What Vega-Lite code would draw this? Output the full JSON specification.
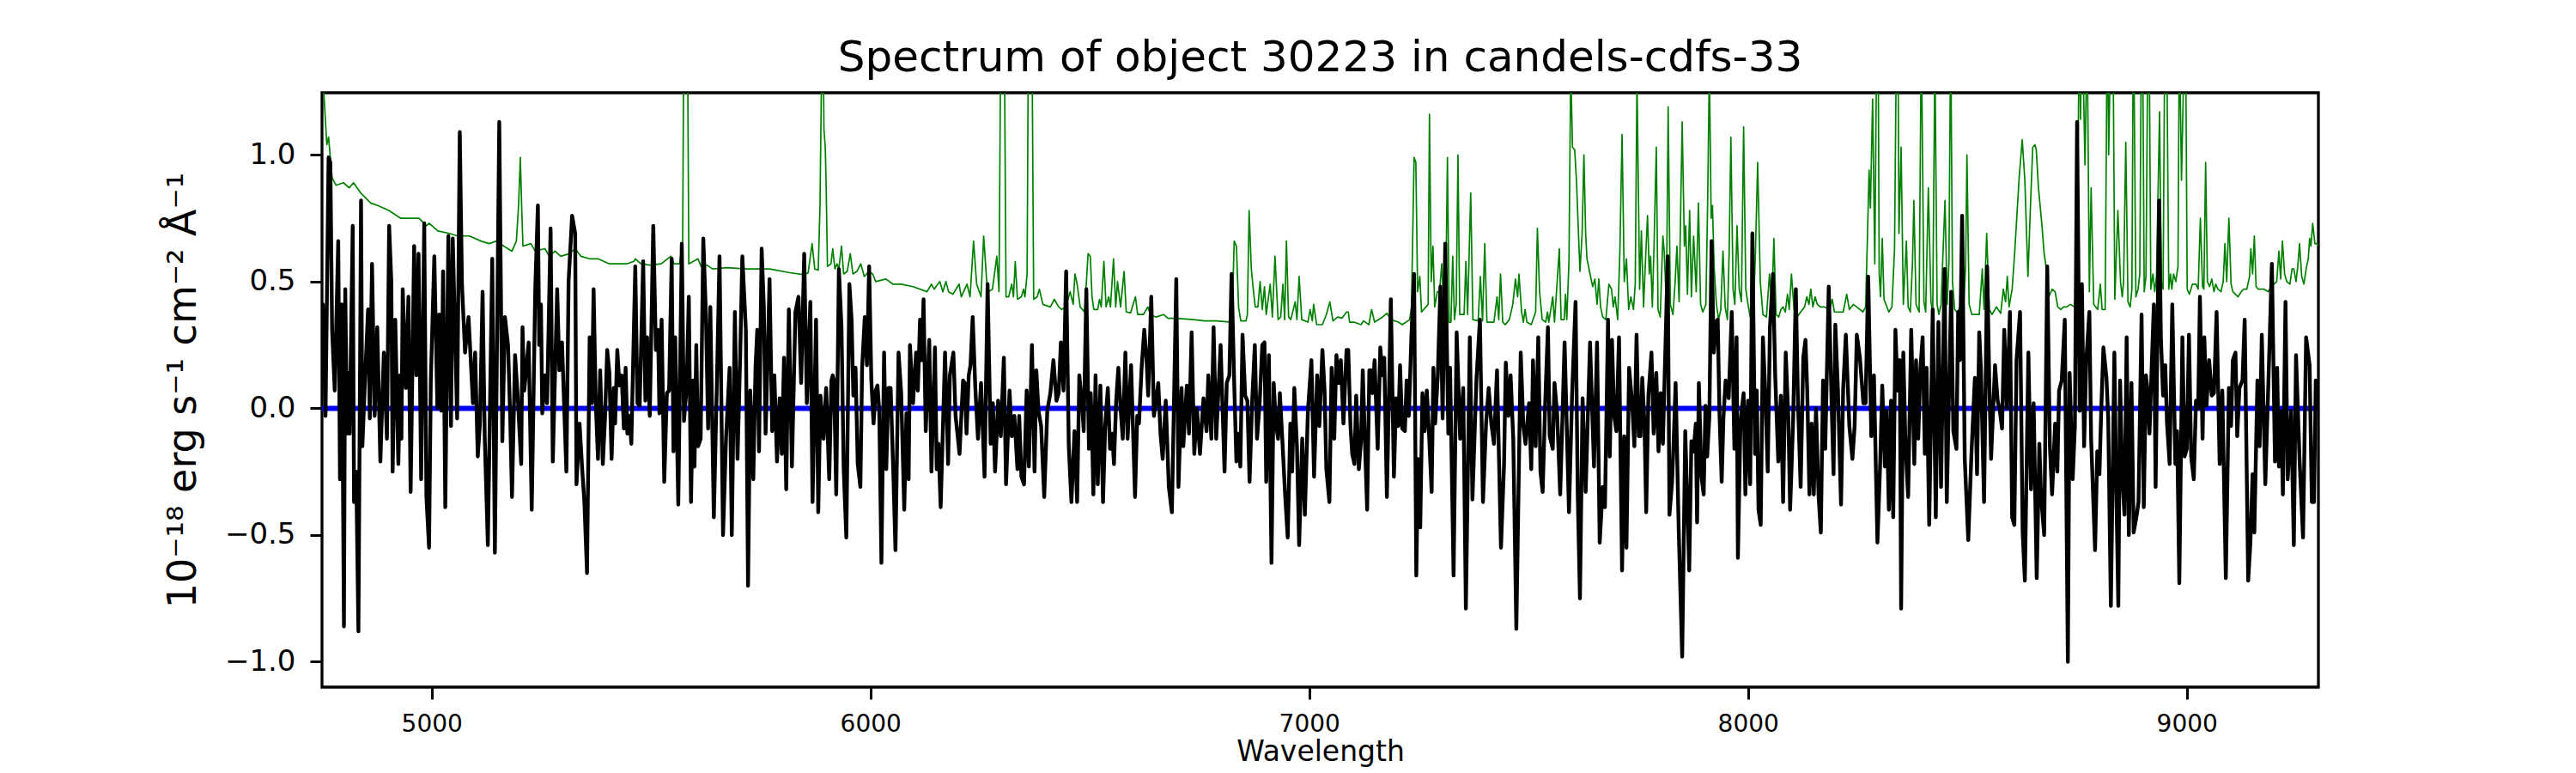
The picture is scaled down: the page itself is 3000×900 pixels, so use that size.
{
  "$schema": "https://vega.github.io/schema/vega-lite/v6.json",
  "width": 2325,
  "height": 692,
  "autosize": "none",
  "padding": {"left": 375, "top": 108, "right": 300, "bottom": 100},
  "background": "white",
  "title": {
    "text": "Spectrum of object 30223 in candels-cdfs-33",
    "font": "DejaVu Sans",
    "fontSize": 50,
    "fontWeight": "normal",
    "color": "black",
    "anchor": "middle",
    "offset": 15
  },
  "datasets": {
    "flux": [
      {"w":4750,"f":0.35},{"w":4752,"f":0.41},{"w":4758,"f":-0.03},{"w":4765,"f":0.99},{"w":4769,"f":0.97},{"w":4773,"f":0.31},{"w":4779,"f":0.07},{"w":4787,"f":0.66},{"w":4791,"f":-0.28},{"w":4795,"f":0.41},{"w":4800,"f":-0.86},{"w":4803,"f":0.47},{"w":4807,"f":-0.10},{"w":4810,"f":0.14},{"w":4813,"f":-0.10},{"w":4820,"f":0.72},{"w":4823,"f":-0.37},{"w":4828,"f":-0.25},{"w":4833,"f":-0.88},{"w":4839,"f":0.82},{"w":4842,"f":-0.15},{"w":4848,"f":0.11},{"w":4855,"f":0.39},{"w":4859,"f":-0.04},{"w":4864,"f":0.57},{"w":4870,"f":-0.03},{"w":4876,"f":0.32},{"w":4883,"f":-0.21},{"w":4891,"f":0.22},{"w":4898,"f":-0.12},{"w":4903,"f":0.72},{"w":4908,"f":0.50},{"w":4911,"f":-0.25},{"w":4917,"f":0.35},{"w":4924,"f":-0.22},{"w":4928,"f":0.13},{"w":4931,"f":-0.12},{"w":4934,"f":0.47},{"w":4941,"f":0.08},{"w":4947,"f":0.44},{"w":4952,"f":-0.33},{"w":4960,"f":0.64},{"w":4965,"f":0.13},{"w":4970,"f":0.61},{"w":4976,"f":-0.28},{"w":4983,"f":0.73},{"w":4988,"f":-0.35},{"w":4994,"f":-0.55},{"w":4998,"f":0.11},{"w":5006,"f":0.60},{"w":5013,"f":0.00},{"w":5017,"f":0.37},{"w":5022,"f":-0.01},{"w":5026,"f":0.54},{"w":5031,"f":-0.39},{"w":5038,"f":0.68},{"w":5044,"f":-0.07},{"w":5048,"f":0.67},{"w":5058,"f":-0.04},{"w":5064,"f":1.09},{"w":5069,"f":0.49},{"w":5076,"f":0.22},{"w":5084,"f":0.36},{"w":5094,"f":0.02},{"w":5099,"f":0.22},{"w":5105,"f":-0.19},{"w":5110,"f":-0.06},{"w":5116,"f":0.46},{"w":5121,"f":-0.12},{"w":5128,"f":-0.54},{"w":5138,"f":0.59},{"w":5144,"f":-0.57},{"w":5154,"f":1.13},{"w":5161,"f":-0.13},{"w":5167,"f":0.36},{"w":5174,"f":0.25},{"w":5179,"f":-0.04},{"w":5183,"f":-0.35},{"w":5190,"f":0.21},{"w":5196,"f":0.05},{"w":5204,"f":-0.22},{"w":5207,"f":0.32},{"w":5211,"f":0.07},{"w":5221,"f":0.26},{"w":5228,"f":-0.40},{"w":5236,"f":0.47},{"w":5242,"f":0.80},{"w":5245,"f":0.25},{"w":5249,"f":0.41},{"w":5252,"f":-0.02},{"w":5258,"f":0.13},{"w":5263,"f":0.02},{"w":5271,"f":0.71},{"w":5276,"f":-0.21},{"w":5286,"f":0.47},{"w":5291,"f":0.15},{"w":5297,"f":0.26},{"w":5307,"f":-0.25},{"w":5312,"f":0.50},{"w":5320,"f":0.76},
      {"w":5327,"f":0.69},{"w":5330,"f":-0.30},{"w":5337,"f":-0.06},{"w":5343,"f":-0.24},{"w":5348,"f":-0.37},{"w":5354,"f":-0.65},{"w":5360,"f":0.28},{"w":5365,"f":0.02},{"w":5369,"f":0.47},{"w":5374,"f":0.02},{"w":5379,"f":-0.20},{"w":5384,"f":0.15},{"w":5390,"f":-0.22},{"w":5395,"f":-0.04},{"w":5400,"f":0.23},{"w":5405,"f":0.14},{"w":5410,"f":-0.20},{"w":5415,"f":0.08},{"w":5418,"f":-0.06},{"w":5423,"f":0.23},{"w":5428,"f":0.09},{"w":5433,"f":0.13},{"w":5438,"f":-0.08},{"w":5442,"f":0.16},{"w":5446,"f":-0.10},{"w":5451,"f":-0.03},{"w":5455,"f":-0.14},{"w":5464,"f":0.56},{"w":5469,"f":0.02},{"w":5474,"f":0.01},{"w":5482,"f":0.58},{"w":5487,"f":0.03},{"w":5491,"f":0.28},{"w":5497,"f":-0.03},{"w":5505,"f":0.72},{"w":5511,"f":0.23},{"w":5516,"f":0.31},{"w":5519,"f":-0.02},{"w":5524,"f":0.35},{"w":5530,"f":-0.29},{"w":5536,"f":0.06},{"w":5541,"f":0.07},{"w":5547,"f":0.59},{"w":5551,"f":-0.17},{"w":5555,"f":0.28},{"w":5562,"f":-0.38},{"w":5570,"f":0.65},{"w":5575,"f":-0.05},{"w":5581,"f":0.08},{"w":5586,"f":0.44},{"w":5591,"f":-0.37},{"w":5596,"f":0.11},{"w":5599,"f":-0.23},{"w":5603,"f":0.25},{"w":5607,"f":-0.15},{"w":5613,"f":-0.12},{"w":5619,"f":0.67},{"w":5625,"f":0.37},{"w":5630,"f":-0.08},{"w":5635,"f":0.40},{"w":5643,"f":-0.43},{"w":5650,"f":0.10},{"w":5656,"f":0.60},{"w":5664,"f":-0.50},{"w":5671,"f":-0.11},{"w":5679,"f":0.16},{"w":5684,"f":-0.50},{"w":5691,"f":0.38},{"w":5697,"f":-0.20},{"w":5703,"f":0.20},{"w":5708,"f":0.60},{"w":5716,"f":0.31},{"w":5721,"f":-0.70},{"w":5726,"f":0.07},{"w":5733,"f":-0.28},{"w":5738,"f":0.16},{"w":5742,"f":0.31},{"w":5746,"f":-0.17},{"w":5752,"f":0.63},{"w":5757,"f":0.40},{"w":5761,"f":-0.10},{"w":5766,"f":0.22},{"w":5770,"f":0.51},{"w":5776,"f":-0.09},{"w":5781,"f":0.13},{"w":5787,"f":-0.21},{"w":5793,"f":0.04},{"w":5798,"f":-0.18},{"w":5803,"f":0.20},{"w":5808,"f":-0.32},{"w":5814,"f":0.39},{"w":5821,"f":-0.23},{"w":5829,"f":0.38},{"w":5836,"f":0.44},{"w":5842,"f":0.10},{"w":5849,"f":0.61},{"w":5855,"f":0.02},{"w":5863,"f":0.42},{"w":5868,"f":-0.37},{"w":5876,"f":0.35},{"w":5881,"f":-0.41},{"w":5886,"f":0.05},{"w":5893,"f":-0.12},{"w":5899,"f":0.08},{"w":5906,"f":-0.28},{"w":5911,"f":0.11},
      {"w":5914,"f":0.13},{"w":5917,"f":0.11},{"w":5922,"f":-0.34},{"w":5928,"f":0.55},{"w":5934,"f":0.32},{"w":5939,"f":-0.24},{"w":5945,"f":-0.51},{"w":5952,"f":0.49},{"w":5957,"f":0.35},{"w":5961,"f":0.05},{"w":5966,"f":0.16},{"w":5971,"f":-0.22},{"w":5977,"f":-0.31},{"w":5981,"f":0.16},{"w":5987,"f":0.36},{"w":5992,"f":0.17},{"w":5997,"f":0.56},{"w":6002,"f":0.11},{"w":6007,"f":-0.06},{"w":6012,"f":0.07},{"w":6016,"f":0.09},{"w":6020,"f":-0.01},{"w":6025,"f":-0.61},{"w":6031,"f":0.22},{"w":6036,"f":-0.24},{"w":6041,"f":0.08},{"w":6046,"f":0.08},{"w":6052,"f":-0.25},{"w":6057,"f":-0.56},{"w":6064,"f":0.22},{"w":6070,"f":0.06},{"w":6077,"f":-0.40},{"w":6082,"f":-0.02},{"w":6087,"f":-0.28},{"w":6090,"f":0.25},{"w":6097,"f":0.02},{"w":6104,"f":0.22},{"w":6108,"f":0.07},{"w":6113,"f":0.35},{"w":6117,"f":0.19},{"w":6121,"f":0.43},{"w":6126,"f":-0.09},{"w":6134,"f":0.27},{"w":6139,"f":-0.25},{"w":6147,"f":0.24},{"w":6151,"f":-0.24},{"w":6155,"f":-0.14},{"w":6160,"f":-0.39},{"w":6170,"f":0.22},{"w":6177,"f":-0.22},{"w":6181,"f":0.13},{"w":6189,"f":0.22},{"w":6194,"f":-0.03},{"w":6203,"f":-0.18},{"w":6211,"f":0.11},{"w":6215,"f":0.10},{"w":6219,"f":-0.10},{"w":6224,"f":0.13},{"w":6228,"f":0.17},{"w":6233,"f":0.36},{"w":6239,"f":0.08},{"w":6245,"f":-0.12},{"w":6252,"f":0.10},{"w":6260,"f":-0.27},{"w":6267,"f":0.49},{"w":6274,"f":-0.14},{"w":6279,"f":0.02},{"w":6284,"f":-0.25},{"w":6291,"f":0.03},{"w":6297,"f":-0.11},{"w":6304,"f":0.20},{"w":6309,"f":-0.30},{"w":6317,"f":0.07},{"w":6322,"f":-0.11},{"w":6328,"f":-0.03},{"w":6335,"f":-0.24},{"w":6339,"f":-0.03},{"w":6344,"f":-0.27},{"w":6350,"f":-0.30},{"w":6356,"f":0.07},{"w":6361,"f":-0.23},{"w":6368,"f":0.25},{"w":6374,"f":-0.25},{"w":6378,"f":0.15},{"w":6383,"f":-0.01},{"w":6389,"f":-0.07},{"w":6396,"f":-0.35},{"w":6403,"f":-0.01},{"w":6410,"f":0.06},{"w":6417,"f":0.19},{"w":6424,"f":0.03},{"w":6429,"f":0.06},{"w":6434,"f":0.26},{"w":6440,"f":0.07},{"w":6446,"f":0.54},{"w":6452,"f":-0.15},{"w":6458,"f":-0.37},{"w":6465,"f":-0.09},{"w":6471,"f":-0.37},{"w":6476,"f":0.13},{"w":6483,"f":0.00},{"w":6486,"f":-0.09},{"w":6492,"f":0.47},{"w":6498,"f":-0.16},
      {"w":6502,"f":0.06},{"w":6505,"f":-0.10},{"w":6508,"f":-0.34},{"w":6513,"f":0.13},{"w":6518,"f":-0.30},{"w":6524,"f":0.09},{"w":6530,"f":-0.37},{"w":6535,"f":-0.07},{"w":6541,"f":0.08},{"w":6546,"f":-0.16},{"w":6551,"f":-0.10},{"w":6555,"f":-0.22},{"w":6560,"f":0.03},{"w":6565,"f":0.16},{"w":6570,"f":0.00},{"w":6575,"f":-0.12},{"w":6581,"f":0.22},{"w":6586,"f":-0.12},{"w":6594,"f":0.17},{"w":6603,"f":-0.35},{"w":6608,"f":-0.03},{"w":6612,"f":-0.06},{"w":6618,"f":0.16},{"w":6624,"f":0.31},{"w":6629,"f":0.20},{"w":6633,"f":0.05},{"w":6640,"f":0.44},{"w":6646,"f":-0.03},{"w":6656,"f":0.10},{"w":6661,"f":-0.10},{"w":6666,"f":-0.20},{"w":6673,"f":0.03},{"w":6680,"f":-0.31},{"w":6687,"f":-0.41},{"w":6697,"f":0.51},{"w":6702,"f":-0.31},{"w":6709,"f":0.08},{"w":6713,"f":-0.15},{"w":6721,"f":0.09},{"w":6726,"f":-0.10},{"w":6732,"f":0.30},{"w":6738,"f":-0.18},{"w":6744,"f":0.00},{"w":6751,"f":-0.18},{"w":6759,"f":0.04},{"w":6766,"f":-0.09},{"w":6770,"f":0.13},{"w":6777,"f":-0.12},{"w":6782,"f":0.32},{"w":6788,"f":-0.12},{"w":6798,"f":0.25},{"w":6807,"f":-0.25},{"w":6812,"f":0.10},{"w":6818,"f":0.13},{"w":6823,"f":0.53},{"w":6829,"f":0.10},{"w":6834,"f":-0.21},{"w":6839,"f":-0.10},{"w":6843,"f":-0.23},{"w":6848,"f":0.29},{"w":6854,"f":0.05},{"w":6859,"f":0.03},{"w":6864,"f":-0.29},{"w":6870,"f":0.03},{"w":6876,"f":0.25},{"w":6881,"f":-0.12},{"w":6887,"f":0.02},{"w":6893,"f":0.25},{"w":6898,"f":0.26},{"w":6902,"f":-0.29},{"w":6908,"f":0.21},{"w":6914,"f":-0.61},{"w":6919,"f":0.10},{"w":6924,"f":-0.06},{"w":6929,"f":-0.12},{"w":6933,"f":0.06},{"w":6938,"f":-0.10},{"w":6945,"f":-0.34},{"w":6951,"f":-0.51},{"w":6957,"f":-0.06},{"w":6961,"f":-0.25},{"w":6966,"f":0.08},{"w":6972,"f":-0.15},{"w":6977,"f":-0.54},{"w":6984,"f":-0.12},{"w":6990,"f":-0.42},{"w":6997,"f":-0.01},{"w":7005,"f":0.19},{"w":7011,"f":-0.27},{"w":7018,"f":0.13},{"w":7023,"f":-0.07},{"w":7030,"f":0.23},{"w":7035,"f":0.07},{"w":7039,"f":-0.24},{"w":7046,"f":-0.37},{"w":7051,"f":0.16},{"w":7057,"f":-0.12},{"w":7062,"f":0.21},{"w":7067,"f":0.10},{"w":7072,"f":0.19},{"w":7078,"f":-0.06},{"w":7085,"f":0.23},
      {"w":7089,"f":0.23},{"w":7094,"f":-0.07},{"w":7098,"f":-0.18},{"w":7103,"f":-0.22},{"w":7107,"f":0.05},{"w":7113,"f":-0.24},{"w":7118,"f":-0.13},{"w":7122,"f":0.15},{"w":7128,"f":-0.19},{"w":7132,"f":-0.40},{"w":7137,"f":0.15},{"w":7141,"f":0.15},{"w":7144,"f":0.06},{"w":7149,"f":0.19},{"w":7156,"f":-0.16},{"w":7162,"f":0.24},{"w":7167,"f":0.13},{"w":7171,"f":0.20},{"w":7177,"f":-0.35},{"w":7186,"f":0.43},{"w":7193,"f":-0.27},{"w":7198,"f":0.04},{"w":7203,"f":-0.07},{"w":7207,"f":0.17},{"w":7212,"f":-0.08},{"w":7218,"f":-0.09},{"w":7222,"f":0.11},{"w":7227,"f":-0.03},{"w":7233,"f":0.29},{"w":7239,"f":0.53},{"w":7244,"f":-0.66},{"w":7248,"f":-0.20},{"w":7253,"f":-0.47},{"w":7258,"f":0.06},{"w":7263,"f":-0.09},{"w":7268,"f":0.07},{"w":7273,"f":-0.10},{"w":7279,"f":-0.33},{"w":7283,"f":0.16},{"w":7287,"f":-0.06},{"w":7293,"f":0.13},{"w":7299,"f":0.48},{"w":7304,"f":-0.04},{"w":7310,"f":0.65},{"w":7317,"f":-0.10},{"w":7321,"f":0.16},{"w":7329,"f":-0.66},{"w":7336,"f":0.30},{"w":7344,"f":-0.12},{"w":7351,"f":0.08},{"w":7357,"f":-0.79},{"w":7366,"f":0.28},{"w":7372,"f":-0.36},{"w":7381,"f":0.11},{"w":7389,"f":0.35},{"w":7396,"f":-0.37},{"w":7403,"f":-0.06},{"w":7409,"f":0.08},{"w":7415,"f":-0.06},{"w":7421,"f":-0.14},{"w":7428,"f":0.15},{"w":7437,"f":-0.55},{"w":7444,"f":-0.22},{"w":7448,"f":0.18},{"w":7454,"f":-0.03},{"w":7459,"f":0.13},{"w":7465,"f":-0.12},{"w":7472,"f":-0.87},{"w":7482,"f":0.22},{"w":7488,"f":-0.07},{"w":7493,"f":-0.14},{"w":7501,"f":0.02},{"w":7506,"f":-0.24},{"w":7510,"f":0.19},{"w":7516,"f":-0.15},{"w":7522,"f":0.28},{"w":7527,"f":-0.25},{"w":7532,"f":-0.33},{"w":7538,"f":0.03},{"w":7544,"f":0.32},{"w":7548,"f":-0.11},{"w":7555,"f":-0.16},{"w":7559,"f":0.10},{"w":7565,"f":-0.02},{"w":7572,"f":-0.34},{"w":7582,"f":0.26},{"w":7592,"f":-0.41},{"w":7599,"f":0.05},{"w":7607,"f":0.42},{"w":7612,"f":-0.34},{"w":7617,"f":-0.75},{"w":7623,"f":0.04},{"w":7630,"f":-0.33},{"w":7640,"f":0.26},{"w":7649,"f":-0.23},{"w":7656,"f":0.26},{"w":7662,"f":-0.53},{"w":7669,"f":-0.31},{"w":7674,"f":-0.39},
      {"w":7681,"f":0.35},{"w":7685,"f":-0.19},{"w":7690,"f":0.27},{"w":7695,"f":-0.03},{"w":7700,"f":-0.09},{"w":7706,"f":0.28},{"w":7713,"f":-0.64},{"w":7718,"f":-0.11},{"w":7723,"f":-0.55},{"w":7729,"f":0.16},{"w":7736,"f":0.02},{"w":7741,"f":-0.15},{"w":7746,"f":0.29},{"w":7751,"f":-0.11},{"w":7755,"f":-0.11},{"w":7759,"f":0.12},{"w":7764,"f":-0.06},{"w":7768,"f":-0.41},{"w":7773,"f":0.05},{"w":7780,"f":0.22},{"w":7785,"f":-0.10},{"w":7791,"f":0.14},{"w":7796,"f":-0.17},{"w":7801,"f":0.06},{"w":7806,"f":-0.14},{"w":7813,"f":0.32},{"w":7817,"f":0.60},{"w":7821,"f":-0.42},{"w":7827,"f":-0.29},{"w":7831,"f":-0.11},{"w":7835,"f":0.10},{"w":7842,"f":-0.47},{"w":7850,"f":-0.98},{"w":7857,"f":-0.09},{"w":7866,"f":-0.64},{"w":7871,"f":-0.13},{"w":7876,"f":-0.17},{"w":7881,"f":-0.06},{"w":7884,"f":-0.45},{"w":7888,"f":0.10},{"w":7894,"f":-0.27},{"w":7899,"f":-0.34},{"w":7903,"f":0.01},{"w":7907,"f":-0.19},{"w":7912,"f":-0.03},{"w":7917,"f":0.66},{"w":7922,"f":0.22},{"w":7927,"f":0.34},{"w":7931,"f":0.35},{"w":7935,"f":-0.02},{"w":7940,"f":-0.29},{"w":7944,"f":-0.04},{"w":7949,"f":0.11},{"w":7956,"f":0.04},{"w":7963,"f":0.38},{"w":7969,"f":-0.16},{"w":7974,"f":0.28},{"w":7977,"f":-0.59},{"w":7983,"f":-0.05},{"w":7990,"f":0.06},{"w":7994,"f":-0.34},{"w":8000,"f":0.03},{"w":8005,"f":-0.30},{"w":8010,"f":0.69},{"w":8016,"f":-0.18},{"w":8020,"f":0.07},{"w":8024,"f":-0.40},{"w":8029,"f":-0.46},{"w":8034,"f":0.28},{"w":8039,"f":0.08},{"w":8045,"f":-0.25},{"w":8050,"f":0.32},{"w":8057,"f":0.53},{"w":8062,"f":0.13},{"w":8069,"f":-0.21},{"w":8075,"f":0.05},{"w":8080,"f":-0.37},{"w":8086,"f":0.22},{"w":8092,"f":-0.04},{"w":8096,"f":-0.40},{"w":8103,"f":-0.04},{"w":8109,"f":0.47},{"w":8114,"f":0.02},{"w":8120,"f":-0.31},{"w":8126,"f":0.20},{"w":8131,"f":0.27},{"w":8135,"f":0.07},{"w":8140,"f":-0.34},{"w":8145,"f":-0.06},{"w":8150,"f":-0.34},{"w":8155,"f":0.00},{"w":8161,"f":-0.35},{"w":8166,"f":-0.49},{"w":8171,"f":0.11},{"w":8176,"f":-0.16},{"w":8184,"f":0.48},{"w":8191,"f":-0.01},{"w":8195,"f":-0.26},{"w":8199,"f":0.33},{"w":8205,"f":0.07},{"w":8212,"f":-0.38},{"w":8217,"f":0.08},{"w":8223,"f":0.29},{"w":8231,"f":-0.07},{"w":8238,"f":-0.20},{"w":8243,"f":-0.07},{"w":8248,"f":0.29},{"w":8255,"f":0.20},{"w":8259,"f":0.11},
      {"w":8263,"f":0.02},{"w":8268,"f":0.02},{"w":8274,"f":0.52},{"w":8281,"f":-0.11},{"w":8287,"f":0.13},{"w":8295,"f":-0.53},{"w":8301,"f":-0.23},{"w":8306,"f":0.09},{"w":8312,"f":-0.23},{"w":8316,"f":-0.01},{"w":8321,"f":-0.40},{"w":8326,"f":0.03},{"w":8331,"f":-0.43},{"w":8336,"f":0.31},{"w":8341,"f":0.07},{"w":8346,"f":0.19},{"w":8349,"f":-0.79},{"w":8354,"f":0.22},{"w":8359,"f":-0.15},{"w":8365,"f":-0.35},{"w":8372,"f":0.31},{"w":8379,"f":-0.22},{"w":8383,"f":0.19},{"w":8388,"f":-0.12},{"w":8393,"f":0.16},{"w":8398,"f":0.28},{"w":8403,"f":-0.18},{"w":8407,"f":0.16},{"w":8413,"f":-0.46},{"w":8421,"f":0.39},{"w":8428,"f":-0.43},{"w":8434,"f":0.34},{"w":8440,"f":-0.31},{"w":8448,"f":0.55},{"w":8453,"f":-0.37},{"w":8463,"f":0.46},{"w":8468,"f":-0.09},{"w":8475,"f":-0.16},{"w":8479,"f":0.38},{"w":8483,"f":0.19},{"w":8488,"f":0.76},{"w":8494,"f":-0.20},{"w":8502,"f":-0.52},{"w":8509,"f":-0.19},{"w":8517,"f":0.12},{"w":8522,"f":-0.26},{"w":8527,"f":0.30},{"w":8531,"f":0.15},{"w":8538,"f":-0.37},{"w":8545,"f":0.56},{"w":8550,"f":0.10},{"w":8554,"f":-0.20},{"w":8563,"f":0.17},{"w":8569,"f":0.03},{"w":8574,"f":-0.01},{"w":8579,"f":-0.08},{"w":8584,"f":0.31},{"w":8590,"f":0.00},{"w":8597,"f":0.38},{"w":8602,"f":-0.43},{"w":8607,"f":-0.46},{"w":8612,"f":0.19},{"w":8620,"f":0.38},{"w":8626,"f":-0.49},{"w":8631,"f":-0.68},{"w":8639,"f":0.22},{"w":8645,"f":-0.32},{"w":8651,"f":0.02},{"w":8658,"f":-0.67},{"w":8664,"f":-0.14},{"w":8668,"f":-0.35},{"w":8675,"f":-0.50},{"w":8682,"f":0.56},{"w":8688,"f":-0.15},{"w":8693,"f":-0.34},{"w":8700,"f":-0.06},{"w":8705,"f":-0.25},{"w":8709,"f":0.07},{"w":8715,"f":0.11},{"w":8722,"f":0.35},{"w":8729,"f":-1.00},{"w":8733,"f":0.14},{"w":8740,"f":-0.28},{"w":8745,"f":-0.07},{"w":8750,"f":1.13},{"w":8756,"f":-0.01},{"w":8761,"f":0.49},{"w":8766,"f":-0.15},{"w":8771,"f":0.19},{"w":8778,"f":0.38},{"w":8782,"f":-0.12},{"w":8791,"f":-0.56},{"w":8796,"f":-0.17},{"w":8801,"f":-0.26},{"w":8805,"f":-0.01},{"w":8810,"f":0.24},{"w":8817,"f":0.12},{"w":8821,"f":-0.04},{"w":8827,"f":-0.78},{"w":8835,"f":0.22},{"w":8839,"f":-0.28},{"w":8844,"f":-0.78},{"w":8848,"f":0.11},
      {"w":8853,"f":-0.27},{"w":8858,"f":-0.42},{"w":8863,"f":0.28},{"w":8868,"f":-0.50},{"w":8874,"f":0.10},{"w":8879,"f":-0.49},{"w":8886,"f":-0.42},{"w":8890,"f":-0.37},{"w":8897,"f":0.37},{"w":8902,"f":-0.39},{"w":8907,"f":0.13},{"w":8910,"f":0.08},{"w":8915,"f":-0.10},{"w":8920,"f":0.16},{"w":8925,"f":0.41},{"w":8929,"f":-0.31},{"w":8937,"f":0.82},{"w":8941,"f":0.28},{"w":8946,"f":0.05},{"w":8951,"f":0.17},{"w":8955,"f":-0.06},{"w":8961,"f":-0.22},{"w":8967,"f":0.41},{"w":8974,"f":-0.22},{"w":8978,"f":-0.09},{"w":8983,"f":-0.69},{"w":8990,"f":0.28},{"w":8995,"f":-0.19},{"w":9000,"f":-0.16},{"w":9005,"f":0.29},{"w":9010,"f":-0.19},{"w":9016,"f":-0.28},{"w":9021,"f":0.03},{"w":9026,"f":0.00},{"w":9030,"f":0.44},{"w":9036,"f":-0.12},{"w":9040,"f":0.28},{"w":9045,"f":0.01},{"w":9051,"f":0.19},{"w":9057,"f":0.05},{"w":9062,"f":0.06},{"w":9068,"f":0.38},{"w":9075,"f":-0.22},{"w":9081,"f":0.07},{"w":9089,"f":-0.67},{"w":9096,"f":0.08},{"w":9101,"f":-0.07},{"w":9105,"f":0.19},{"w":9111,"f":0.22},{"w":9115,"f":-0.11},{"w":9120,"f":0.08},{"w":9127,"f":0.11},{"w":9132,"f":0.35},{"w":9140,"f":-0.68},{"w":9145,"f":-0.53},{"w":9150,"f":-0.26},{"w":9154,"f":-0.49},{"w":9161,"f":0.11},{"w":9166,"f":-0.15},{"w":9171,"f":0.29},{"w":9179,"f":-0.30},{"w":9186,"f":0.10},{"w":9194,"f":0.57},{"w":9201,"f":-0.21},{"w":9206,"f":0.16},{"w":9210,"f":-0.23},{"w":9215,"f":-0.01},{"w":9219,"f":-0.34},{"w":9225,"f":0.42},{"w":9230,"f":-0.28},{"w":9238,"f":-0.01},{"w":9244,"f":-0.54},{"w":9249,"f":0.21},{"w":9257,"f":-0.20},{"w":9265,"f":-0.51},{"w":9272,"f":0.28},{"w":9280,"f":0.17},{"w":9285,"f":-0.37},{"w":9290,"f":-0.37},{"w":9294,"f":0.11},{"w":9298,"f":-0.01}
    ],
    "err": [
      {"w":4750,"f":1.6},{"w":4754,"f":1.25},{"w":4761,"f":1.04},{"w":4765,"f":1.07},{"w":4773,"f":0.91},{"w":4782,"f":0.88},{"w":4799,"f":0.89},{"w":4812,"f":0.87},{"w":4822,"f":0.89},{"w":4838,"f":0.85},{"w":4861,"f":0.81},{"w":4877,"f":0.80},{"w":4903,"f":0.78},{"w":4929,"f":0.75},{"w":4955,"f":0.75},{"w":4971,"f":0.75},{"w":4988,"f":0.72},{"w":4994,"f":0.73},{"w":5014,"f":0.70},{"w":5040,"f":0.69},{"w":5059,"f":0.68},{"w":5086,"f":0.68},{"w":5112,"f":0.66},{"w":5131,"f":0.65},{"w":5148,"f":0.66},{"w":5164,"f":0.64},{"w":5183,"f":0.62},{"w":5193,"f":0.66},{"w":5198,"f":0.80},{"w":5202,"f":0.99},{"w":5205,"f":0.80},{"w":5208,"f":0.64},{"w":5226,"f":0.65},{"w":5236,"f":0.62},{"w":5258,"f":0.63},{"w":5268,"f":0.60},{"w":5281,"f":0.62},{"w":5294,"f":0.60},{"w":5314,"f":0.61},
      {"w":5327,"f":0.63},{"w":5340,"f":0.60},{"w":5360,"f":0.59},{"w":5379,"f":0.59},{"w":5405,"f":0.57},{"w":5425,"f":0.57},{"w":5444,"f":0.57},{"w":5461,"f":0.58},{"w":5464,"f":0.59},{"w":5477,"f":0.57},{"w":5497,"f":0.565},{"w":5523,"f":0.57},{"w":5545,"f":0.60},{"w":5552,"f":0.57},{"w":5565,"f":0.57},{"w":5572,"f":0.66},{"w":5575,"f":1.6},{"w":5579,"f":2.5},{"w":5583,"f":1.5},{"w":5586,"f":0.57},{"w":5607,"f":0.59},{"w":5614,"f":0.56},{"w":5627,"f":0.565},{"w":5640,"f":0.55},{"w":5673,"f":0.555},{"w":5718,"f":0.55},{"w":5770,"f":0.55},{"w":5816,"f":0.535},{"w":5849,"f":0.527},{"w":5858,"f":0.535},{"w":5867,"f":0.65},{"w":5873,"f":0.55},{"w":5881,"f":0.545},{"w":5885,"f":0.8},{"w":5889,"f":1.4},{"w":5892,"f":1.5},{"w":5894,"f":1.10},{"w":5897,"f":1.03},{"w":5899,"f":0.88},{"w":5902,"f":0.56},{"w":5910,"f":0.57},
      {"w":5914,"f":0.63},{"w":5919,"f":0.55},{"w":5924,"f":0.57},{"w":5928,"f":0.55},{"w":5934,"f":0.64},{"w":5939,"f":0.53},{"w":5947,"f":0.54},{"w":5954,"f":0.61},{"w":5960,"f":0.53},{"w":5969,"f":0.54},{"w":5978,"f":0.57},{"w":5986,"f":0.52},{"w":5996,"f":0.54},{"w":6005,"f":0.53},{"w":6012,"f":0.50},{"w":6035,"f":0.51},{"w":6051,"f":0.49},{"w":6070,"f":0.49},{"w":6097,"f":0.48},{"w":6129,"f":0.46},{"w":6139,"f":0.49},{"w":6145,"f":0.47},{"w":6158,"f":0.50},{"w":6165,"f":0.46},{"w":6172,"f":0.50},{"w":6178,"f":0.46},{"w":6188,"f":0.45},{"w":6202,"f":0.49},{"w":6207,"f":0.44},{"w":6220,"f":0.49},{"w":6227,"f":0.44},{"w":6235,"f":0.66},{"w":6242,"f":0.49},{"w":6252,"f":0.44},{"w":6258,"f":0.68},{"w":6265,"f":0.50},{"w":6269,"f":0.46},{"w":6278,"f":0.47},{"w":6288,"f":0.60},{"w":6293,"f":0.46},{"w":6297,"f":1.5},{"w":6301,"f":3.0},{"w":6305,"f":1.5},{"w":6309,"f":0.44},{"w":6315,"f":0.44},{"w":6322,"f":0.49},{"w":6326,"f":0.44},{"w":6330,"f":0.58},{"w":6335,"f":0.43},{"w":6344,"f":0.44},{"w":6349,"f":0.47},{"w":6352,"f":0.44},{"w":6357,"f":0.53},{"w":6360,"f":1.5},{"w":6364,"f":2.0},{"w":6368,"f":1.5},{"w":6372,"f":0.43},{"w":6380,"f":0.44},{"w":6385,"f":0.47},{"w":6393,"f":0.41},{"w":6410,"f":0.40},{"w":6419,"f":0.43},{"w":6429,"f":0.40},{"w":6436,"f":0.39},{"w":6445,"f":0.40},{"w":6455,"f":0.46},{"w":6462,"f":0.41},{"w":6466,"f":0.53},{"w":6471,"f":0.49},{"w":6478,"f":0.40},{"w":6488,"f":0.38},{"w":6496,"f":0.61},{"w":6501,"f":0.60},
      {"w":6505,"f":0.44},{"w":6509,"f":0.39},{"w":6518,"f":0.39},{"w":6522,"f":0.43},{"w":6526,"f":0.40},{"w":6532,"f":0.58},{"w":6537,"f":0.40},{"w":6543,"f":0.44},{"w":6547,"f":0.40},{"w":6554,"f":0.59},{"w":6559,"f":0.40},{"w":6563,"f":0.50},{"w":6570,"f":0.40},{"w":6578,"f":0.54},{"w":6583,"f":0.38},{"w":6593,"f":0.377},{"w":6597,"f":0.40},{"w":6604,"f":0.44},{"w":6609,"f":0.37},{"w":6622,"f":0.37},{"w":6632,"f":0.40},{"w":6638,"f":0.37},{"w":6651,"f":0.36},{"w":6668,"f":0.37},{"w":6678,"f":0.355},{"w":6697,"f":0.355},{"w":6736,"f":0.35},{"w":6762,"f":0.345},{"w":6788,"f":0.345},{"w":6824,"f":0.34},{"w":6829,"f":0.66},{"w":6834,"f":0.64},{"w":6839,"f":0.40},{"w":6844,"f":0.345},{"w":6856,"f":0.345},{"w":6859,"f":0.37},{"w":6863,"f":0.78},{"w":6868,"f":0.55},{"w":6873,"f":0.46},{"w":6877,"f":0.40},{"w":6883,"f":0.40},{"w":6888,"f":0.50},{"w":6893,"f":0.39},{"w":6898,"f":0.48},{"w":6902,"f":0.37},{"w":6911,"f":0.49},{"w":6916,"f":0.36},{"w":6922,"f":0.60},{"w":6929,"f":0.35},{"w":6935,"f":0.36},{"w":6940,"f":0.49},{"w":6944,"f":0.35},{"w":6948,"f":0.66},{"w":6953,"f":0.36},{"w":6958,"f":0.35},{"w":6968,"f":0.42},{"w":6972,"f":0.35},{"w":6977,"f":0.52},{"w":6983,"f":0.35},{"w":6997,"f":0.34},{"w":7002,"f":0.39},{"w":7007,"f":0.345},{"w":7010,"f":0.41},{"w":7017,"f":0.33},{"w":7030,"f":0.33},{"w":7039,"f":0.37},{"w":7047,"f":0.42},{"w":7054,"f":0.345},{"w":7065,"f":0.36},{"w":7075,"f":0.356},{"w":7085,"f":0.38},
      {"w":7089,"f":0.38},{"w":7092,"f":0.34},{"w":7102,"f":0.34},{"w":7118,"f":0.33},{"w":7124,"f":0.345},{"w":7136,"f":0.33},{"w":7142,"f":0.39},{"w":7149,"f":0.34},{"w":7167,"f":0.36},{"w":7177,"f":0.375},{"w":7186,"f":0.35},{"w":7203,"f":0.34},{"w":7212,"f":0.33},{"w":7229,"f":0.35},{"w":7233,"f":0.40},{"w":7239,"f":0.99},{"w":7243,"f":0.97},{"w":7247,"f":0.46},{"w":7252,"f":0.52},{"w":7256,"f":0.38},{"w":7266,"f":0.40},{"w":7271,"f":0.41},{"w":7274,"f":1.16},{"w":7278,"f":0.50},{"w":7282,"f":0.64},{"w":7286,"f":0.40},{"w":7292,"f":0.46},{"w":7297,"f":0.46},{"w":7302,"f":0.57},{"w":7308,"f":0.34},{"w":7312,"f":0.57},{"w":7315,"f":0.99},{"w":7319,"f":0.34},{"w":7323,"f":0.34},{"w":7327,"f":0.60},{"w":7331,"f":0.35},{"w":7335,"f":0.41},{"w":7339,"f":1.00},{"w":7343,"f":0.37},{"w":7353,"f":0.37},{"w":7357,"f":0.58},{"w":7361,"f":0.37},{"w":7368,"f":0.85},{"w":7373,"f":0.35},{"w":7385,"f":0.345},{"w":7390,"f":0.52},{"w":7395,"f":0.345},{"w":7400,"f":0.65},{"w":7405,"f":0.34},{"w":7421,"f":0.34},{"w":7428,"f":0.44},{"w":7432,"f":0.35},{"w":7436,"f":0.53},{"w":7441,"f":0.34},{"w":7447,"f":0.33},{"w":7456,"f":0.35},{"w":7464,"f":0.41},{"w":7470,"f":0.51},{"w":7475,"f":0.44},{"w":7478,"f":0.53},{"w":7484,"f":0.38},{"w":7488,"f":0.34},{"w":7492,"f":0.39},{"w":7496,"f":0.34},{"w":7506,"f":0.33},{"w":7516,"f":0.38},{"w":7520,"f":0.71},{"w":7525,"f":0.46},{"w":7531,"f":0.35},{"w":7539,"f":0.34},{"w":7543,"f":0.38},{"w":7546,"f":0.34},{"w":7555,"f":0.44},{"w":7559,"f":0.34},{"w":7570,"f":0.63},{"w":7574,"f":0.35},{"w":7581,"f":0.35},{"w":7584,"f":0.45},{"w":7587,"f":0.35},{"w":7592,"f":0.58},{"w":7596,"f":1.35},{"w":7600,"f":1.03},{"w":7605,"f":1.02},{"w":7609,"f":0.90},{"w":7617,"f":0.54},{"w":7622,"f":0.69},{"w":7626,"f":1.00},{"w":7630,"f":0.69},{"w":7633,"f":0.59},{"w":7640,"f":0.53},{"w":7646,"f":0.48},{"w":7651,"f":0.51},{"w":7656,"f":0.41},{"w":7660,"f":0.51},{"w":7664,"f":0.40},{"w":7669,"f":0.36},
      {"w":7676,"f":0.35},{"w":7683,"f":0.49},{"w":7689,"f":0.47},{"w":7693,"f":0.40},{"w":7697,"f":0.44},{"w":7703,"f":0.35},{"w":7708,"f":0.62},{"w":7713,"f":1.08},{"w":7718,"f":0.50},{"w":7723,"f":0.59},{"w":7728,"f":0.39},{"w":7733,"f":0.44},{"w":7739,"f":0.39},{"w":7743,"f":0.49},{"w":7747,"f":1.30},{"w":7753,"f":0.47},{"w":7757,"f":0.70},{"w":7762,"f":0.40},{"w":7767,"f":0.61},{"w":7771,"f":0.76},{"w":7775,"f":0.53},{"w":7778,"f":0.60},{"w":7782,"f":0.40},{"w":7786,"f":0.65},{"w":7791,"f":1.03},{"w":7795,"f":0.39},{"w":7800,"f":0.36},{"w":7806,"f":0.68},{"w":7809,"f":0.62},{"w":7814,"f":0.41},{"w":7818,"f":1.19},{"w":7823,"f":0.41},{"w":7829,"f":0.37},{"w":7834,"f":0.50},{"w":7838,"f":0.64},{"w":7843,"f":0.42},{"w":7850,"f":1.13},{"w":7855,"f":0.64},{"w":7858,"f":0.72},{"w":7862,"f":0.45},{"w":7867,"f":0.78},{"w":7871,"f":0.44},{"w":7876,"f":0.68},{"w":7882,"f":0.46},{"w":7887,"f":0.81},{"w":7892,"f":0.41},{"w":7897,"f":0.38},{"w":7904,"f":0.41},{"w":7908,"f":0.81},{"w":7912,"f":1.35},{"w":7916,"f":0.75},{"w":7919,"f":0.80},{"w":7923,"f":0.55},{"w":7928,"f":0.41},{"w":7933,"f":0.35},{"w":7938,"f":0.39},{"w":7943,"f":0.62},{"w":7948,"f":0.40},{"w":7953,"f":0.35},{"w":7957,"f":0.61},{"w":7961,"f":1.07},{"w":7966,"f":0.47},{"w":7970,"f":0.41},{"w":7975,"f":0.72},{"w":7980,"f":0.47},{"w":7985,"f":0.42},{"w":7990,"f":1.11},{"w":7995,"f":0.47},{"w":8000,"f":0.41},{"w":8005,"f":0.36},{"w":8013,"f":0.41},{"w":8017,"f":0.62},{"w":8022,"f":0.97},{"w":8028,"f":0.50},{"w":8034,"f":0.37},{"w":8042,"f":0.36},{"w":8049,"f":0.53},{"w":8054,"f":0.39},{"w":8059,"f":0.67},{"w":8064,"f":0.37},{"w":8070,"f":0.36},{"w":8075,"f":0.39},{"w":8080,"f":0.40},{"w":8085,"f":0.38},{"w":8090,"f":0.45},{"w":8094,"f":0.39},{"w":8099,"f":0.53},{"w":8105,"f":0.39},{"w":8112,"f":0.36},{"w":8120,"f":0.38},{"w":8129,"f":0.40},{"w":8134,"f":0.44},{"w":8139,"f":0.41},{"w":8143,"f":0.47},{"w":8148,"f":0.40},{"w":8153,"f":0.44},{"w":8158,"f":0.41},{"w":8165,"f":0.40},{"w":8174,"f":0.40},{"w":8186,"f":0.39},{"w":8192,"f":0.43},{"w":8197,"f":0.38},{"w":8217,"f":0.38},{"w":8225,"f":0.45},{"w":8231,"f":0.39},{"w":8240,"f":0.41},{"w":8248,"f":0.40},{"w":8262,"f":0.38},
      {"w":8268,"f":0.40},{"w":8272,"f":0.66},{"w":8276,"f":0.94},{"w":8279,"f":0.79},{"w":8284,"f":1.22},{"w":8289,"f":0.57},{"w":8293,"f":1.4},{"w":8297,"f":1.3},{"w":8299,"f":0.53},{"w":8302,"f":0.44},{"w":8306,"f":0.67},{"w":8310,"f":0.43},{"w":8321,"f":0.38},{"w":8328,"f":0.40},{"w":8334,"f":0.63},{"w":8339,"f":1.6},{"w":8342,"f":1.4},{"w":8344,"f":0.69},{"w":8349,"f":1.03},{"w":8354,"f":0.41},{"w":8361,"f":0.66},{"w":8365,"f":0.40},{"w":8370,"f":0.38},{"w":8375,"f":0.58},{"w":8378,"f":0.82},{"w":8383,"f":0.41},{"w":8390,"f":0.38},{"w":8395,"f":1.5},{"w":8401,"f":0.42},{"w":8405,"f":0.38},{"w":8411,"f":0.87},{"w":8417,"f":0.42},{"w":8421,"f":0.38},{"w":8426,"f":1.4},{"w":8431,"f":0.41},{"w":8435,"f":0.37},{"w":8440,"f":0.41},{"w":8449,"f":0.82},{"w":8454,"f":0.41},{"w":8458,"f":0.58},{"w":8462,"f":1.5},{"w":8466,"f":0.50},{"w":8471,"f":0.39},{"w":8478,"f":0.375},{"w":8484,"f":0.41},{"w":8491,"f":0.38},{"w":8496,"f":0.56},{"w":8499,"f":1.00},{"w":8504,"f":0.41},{"w":8510,"f":0.37},{"w":8527,"f":0.37},{"w":8534,"f":0.55},{"w":8538,"f":0.39},{"w":8544,"f":0.69},{"w":8550,"f":0.39},{"w":8556,"f":0.37},{"w":8566,"f":0.40},{"w":8576,"f":0.375},{"w":8582,"f":0.47},{"w":8587,"f":0.42},{"w":8591,"f":0.52},{"w":8595,"f":0.40},{"w":8602,"f":0.47},{"w":8608,"f":0.62},{"w":8618,"f":0.91},{"w":8625,"f":1.06},{"w":8631,"f":0.90},{"w":8638,"f":0.52},{"w":8644,"f":0.81},{"w":8649,"f":1.03},{"w":8654,"f":1.04},{"w":8657,"f":1.02},{"w":8662,"f":0.87},{"w":8670,"f":0.72},{"w":8675,"f":0.61},{"w":8680,"f":0.55},{"w":8686,"f":0.44},{"w":8693,"f":0.47},{"w":8700,"f":0.46},{"w":8706,"f":0.40},{"w":8713,"f":0.39},{"w":8719,"f":0.40},{"w":8726,"f":0.40},{"w":8735,"f":0.41},{"w":8744,"f":0.40},{"w":8747,"f":0.45},{"w":8752,"f":0.96},{"w":8755,"f":1.5},{"w":8758,"f":1.14},{"w":8761,"f":1.6},{"w":8768,"f":0.96},{"w":8773,"f":1.5},{"w":8778,"f":0.46},{"w":8782,"f":0.87},{"w":8788,"f":0.41},{"w":8797,"f":0.39},{"w":8803,"f":0.49},{"w":8807,"f":0.39},{"w":8814,"f":0.39},{"w":8819,"f":1.6},{"w":8822,"f":1.0},{"w":8825,"f":1.3},{"w":8830,"f":1.6},{"w":8833,"f":1.2},{"w":8836,"f":0.43},{"w":8843,"f":0.78},{"w":8849,"f":0.50},
      {"w":8853,"f":0.44},{"w":8856,"f":0.50},{"w":8861,"f":1.05},{"w":8866,"f":0.42},{"w":8871,"f":0.40},{"w":8875,"f":0.47},{"w":8878,"f":1.5},{"w":8880,"f":1.3},{"w":8884,"f":0.44},{"w":8889,"f":0.47},{"w":8893,"f":0.53},{"w":8897,"f":1.6},{"w":8900,"f":1.3},{"w":8903,"f":0.46},{"w":8907,"f":0.52},{"w":8912,"f":1.6},{"w":8915,"f":1.3},{"w":8918,"f":0.47},{"w":8923,"f":0.53},{"w":8927,"f":0.46},{"w":8931,"f":0.52},{"w":8938,"f":1.17},{"w":8942,"f":0.50},{"w":8946,"f":0.47},{"w":8950,"f":1.5},{"w":8954,"f":1.5},{"w":8959,"f":0.47},{"w":8963,"f":0.53},{"w":8966,"f":0.47},{"w":8970,"f":0.53},{"w":8975,"f":0.50},{"w":8980,"f":0.56},{"w":8983,"f":1.5},{"w":8988,"f":0.9},{"w":8995,"f":1.5},{"w":8998,"f":1.3},{"w":9001,"f":0.47},{"w":9006,"f":0.45},{"w":9013,"f":0.49},{"w":9021,"f":0.49},{"w":9026,"f":0.47},{"w":9031,"f":0.75},{"w":9036,"f":0.48},{"w":9039,"f":0.47},{"w":9043,"f":0.97},{"w":9047,"f":0.50},{"w":9052,"f":0.48},{"w":9057,"f":0.51},{"w":9062,"f":0.46},{"w":9066,"f":0.49},{"w":9071,"f":0.47},{"w":9078,"f":0.46},{"w":9083,"f":0.50},{"w":9087,"f":0.65},{"w":9091,"f":0.50},{"w":9096,"f":0.75},{"w":9101,"f":0.49},{"w":9105,"f":0.46},{"w":9117,"f":0.44},{"w":9124,"f":0.46},{"w":9130,"f":0.47},{"w":9137,"f":0.47},{"w":9143,"f":0.52},{"w":9146,"f":0.63},{"w":9150,"f":0.53},{"w":9154,"f":0.68},{"w":9158,"f":0.48},{"w":9163,"f":0.47},{"w":9176,"f":0.47},{"w":9186,"f":0.46},{"w":9192,"f":0.48},{"w":9205,"f":0.50},{"w":9210,"f":0.62},{"w":9214,"f":0.51},{"w":9218,"f":0.66},{"w":9223,"f":0.53},{"w":9228,"f":0.50},{"w":9235,"f":0.49},{"w":9240,"f":0.55},{"w":9244,"f":0.55},{"w":9249,"f":0.50},{"w":9253,"f":0.56},{"w":9257,"f":0.65},{"w":9262,"f":0.52},{"w":9267,"f":0.49},{"w":9272,"f":0.55},{"w":9277,"f":0.59},{"w":9280,"f":0.67},{"w":9283,"f":0.64},{"w":9287,"f":0.73},{"w":9292,"f":0.65},{"w":9296,"f":0.65},{"w":9300,"f":0.64}
    ],
    "model": [
      {"w":4750,"f":0},{"w":9300,"f":0}
    ]
  },
  "encoding": {
    "x": {
      "field": "w",
      "type": "quantitative",
      "scale": {"domain": [4750, 9300], "nice": false, "zero": false},
      "axis": {
        "title": "Wavelength",
        "values": [5000, 6000, 7000, 8000, 9000],
        "format": "d",
        "grid": false,
        "domain": false,
        "ticks": true,
        "tickSize": 14,
        "tickWidth": 3,
        "tickColor": "black",
        "labelFont": "DejaVu Sans",
        "labelFontSize": 28,
        "labelColor": "black",
        "labelPadding": 15,
        "titleFont": "DejaVu Sans",
        "titleFontSize": 33,
        "titleFontWeight": "normal",
        "titleColor": "black",
        "titleBaseline": "top",
        "titleY": 59
      }
    },
    "y": {
      "field": "f",
      "type": "quantitative",
      "scale": {"domain": [-1.1, 1.245], "nice": false, "zero": false},
      "axis": {
        "title": "10⁻¹⁸ erg s⁻¹ cm⁻² Å⁻¹",
        "values": [-1, -0.5, 0, 0.5, 1],
        "format": ".1f",
        "grid": false,
        "domain": false,
        "tickSize": 14,
        "tickWidth": 3,
        "tickColor": "black",
        "labelFont": "DejaVu Sans",
        "labelFontSize": 34,
        "labelColor": "black",
        "labelPadding": 17,
        "titleFont": "DejaVu Sans",
        "titleFontSize": 46,
        "titleFontWeight": "normal",
        "titleColor": "black",
        "titleAngle": 270,
        "titleAlign": "center",
        "titleBaseline": "bottom",
        "titleX": -138,
        "titleY": 346
      }
    }
  },
  "layer": [
    {
      "data": {"name": "err"},
      "mark": {"type": "line", "color": "#008000", "strokeWidth": 1.7, "clip": true, "strokeJoin": "round"}
    },
    {
      "data": {"name": "model"},
      "mark": {"type": "line", "color": "#0000ff", "strokeWidth": 6, "clip": true}
    },
    {
      "data": {"name": "flux"},
      "mark": {"type": "line", "color": "black", "strokeWidth": 4.4, "clip": true, "strokeJoin": "round"}
    }
  ],
  "config": {
    "font": "DejaVu Sans",
    "view": {"stroke": "black", "strokeWidth": 3.3}
  }
}
